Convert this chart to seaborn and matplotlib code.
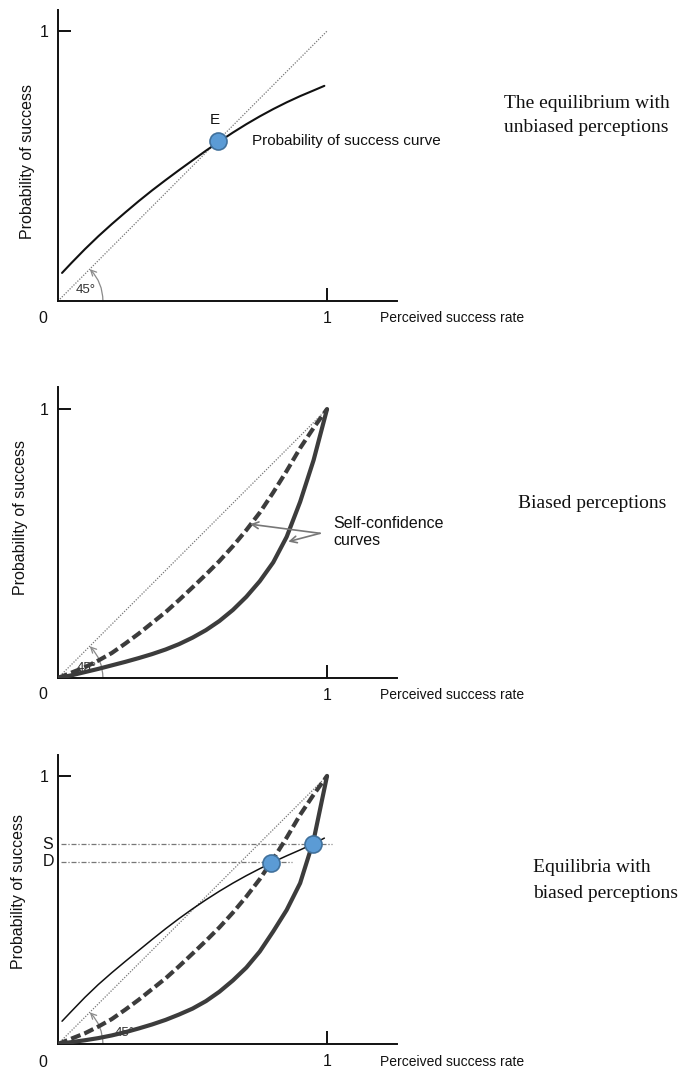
import matplotlib
matplotlib.use("Agg")
import matplotlib.pyplot as plt
import seaborn as sns
import pandas as pd

# ---------------- data ----------------
diag_x = [0.0, 1.0]
diag_y = [0.0, 1.0]

# panel 1: probability of success curve (unbiased)
p1_x = [0.015, 0.05, 0.10, 0.15, 0.20, 0.25, 0.30, 0.35, 0.40, 0.45, 0.50,
        0.55, 0.60, 0.65, 0.70, 0.75, 0.80, 0.85, 0.90, 0.95, 0.99]
p1_y = [0.104, 0.141, 0.192, 0.240, 0.285, 0.328, 0.370, 0.410, 0.448, 0.485, 0.521,
        0.557, 0.591, 0.624, 0.655, 0.684, 0.711, 0.736, 0.759, 0.780, 0.797]
E_x = [0.594]
E_y = [0.594]

# panels 2 & 3: self-confidence curves
bias_x = [0.0, 0.05, 0.10, 0.15, 0.20, 0.25, 0.30, 0.35, 0.40, 0.45, 0.50,
          0.55, 0.60, 0.65, 0.70, 0.75, 0.80, 0.85, 0.90, 0.95, 1.0]
moderate_y = [0.0, 0.020, 0.040, 0.065, 0.093, 0.128, 0.165, 0.205, 0.245, 0.290, 0.337,
              0.385, 0.435, 0.490, 0.550, 0.615, 0.690, 0.770, 0.855, 0.930, 1.0]
strong_y_p2 = [0.0, 0.010, 0.022, 0.034, 0.047, 0.060, 0.074, 0.089, 0.106, 0.126, 0.150,
               0.178, 0.212, 0.253, 0.302, 0.360, 0.430, 0.525, 0.655, 0.810, 1.0]
strong_y_p3 = [0.0, 0.007, 0.014, 0.022, 0.032, 0.044, 0.058, 0.073, 0.090, 0.110, 0.132,
               0.160, 0.195, 0.237, 0.285, 0.345, 0.420, 0.500, 0.600, 0.760, 1.0]

# panel 3: probability of success curve
p3_x = [0.015, 0.05, 0.10, 0.15, 0.20, 0.25, 0.30, 0.35, 0.40, 0.45, 0.50,
        0.55, 0.60, 0.65, 0.70, 0.75, 0.80, 0.85, 0.90, 0.95, 0.99]
p3_y = [0.085, 0.122, 0.174, 0.222, 0.266, 0.308, 0.349, 0.390, 0.430, 0.468, 0.504,
        0.538, 0.570, 0.600, 0.628, 0.654, 0.679, 0.702, 0.724, 0.747, 0.768]
eq_x = [0.792, 0.947]
eq_y = [0.675, 0.746]
level_labels = ["D", "S"]
level_y = [0.680, 0.746]
level_xend = [0.87, 1.02]

# ---------------- style ----------------
sns.set_style("white")
plt.rcParams['font.family'] = ['Liberation Sans', 'DejaVu Sans']

W, H = 679, 1068
fig = plt.figure(figsize=(W / 100, H / 100), dpi=100)

def add_axes(bottom_px, top_px):
    left, right = 58, 397
    return fig.add_axes([left / W, (H - bottom_px) / H, (right - left) / W, (bottom_px - top_px) / H])

ax1 = add_axes(301, 10)
ax2 = add_axes(678, 387)
ax3 = add_axes(1044, 755)

SPINE = "#111111"
CURVE_DARK = "#3c3c3c"
MARK_FC = "#5b9bd5"
MARK_EC = "#41719c"

def setup(ax, ytop, ylab_xy, xlab_y):
    ax.set_xlim(0, 1.26)
    ax.set_ylim(0, ytop)
    sns.despine(ax=ax)
    for s in ["left", "bottom"]:
        ax.spines[s].set_linewidth(1.4)
        ax.spines[s].set_color(SPINE)
    ax.set_xticks([1])
    ax.set_xticklabels(["1"])
    ax.set_yticks([1])
    ax.set_yticklabels(["1"])
    ax.tick_params(bottom=True, left=True, direction="in", length=9.5, width=1.4,
                   color=SPINE, pad=7, labelsize=11.5, labelcolor="#111111")
    ax.set_xlabel("")
    ax.set_ylabel("")
    ax.text(-0.056, xlab_y, "0", ha="center", va="center", fontsize=11.5,
            color="#111111", clip_on=False)
    ax.text(1.197, xlab_y, "Perceived success rate", ha="left", va="center",
            fontsize=10, color="#111111", clip_on=False)
    ax.text(ylab_xy[0], ylab_xy[1], "Probability of success", rotation=90,
            ha="center", va="center", fontsize=11.5, color="#111111", clip_on=False)
    # diagonal 45 degree line
    sns.lineplot(x=diag_x, y=diag_y, ax=ax, color="#777777", linewidth=0.9,
                 linestyle=(0, (1, 1.2)), zorder=2)

def angle_mark(ax, label_xy):
    r = 0.167
    ax.annotate("", xy=(r * 0.7071, r * 0.7071), xytext=(r, 0.0),
                arrowprops=dict(arrowstyle="->", color="#8a8a8a", lw=0.9,
                                shrinkA=0, shrinkB=0,
                                connectionstyle="arc3,rad=0.2"), zorder=1)
    ax.text(label_xy[0], label_xy[1], "45°", ha="center", va="center",
            fontsize=9.5, color="#333333", zorder=1)

# ---------------- panel 1 ----------------
setup(ax1, 1.078, (-0.115, 0.515), -0.063)
angle_mark(ax1, (0.104, 0.041))
sns.lineplot(x=p1_x, y=p1_y, ax=ax1, color="#111111", linewidth=1.5, zorder=3)
sns.scatterplot(x=E_x, y=E_y, ax=ax1, s=150, color=MARK_FC, edgecolor=MARK_EC,
                linewidth=1.2, zorder=5)
ax1.text(0.584, 0.67, "E", ha="center", va="center", fontsize=11, color="#111111")
ax1.text(0.721, 0.593, "Probability of success curve", ha="left", va="center",
         fontsize=11, color="#111111")

# ---------------- panel 2 ----------------
setup(ax2, 1.082, (-0.14, 0.595), -0.063)
angle_mark(ax2, (0.105, 0.037))
sns.lineplot(x=bias_x, y=moderate_y, ax=ax2, color=CURVE_DARK, linewidth=3.0,
             linestyle=(0, (2.4, 1.0)), zorder=3)
sns.lineplot(x=bias_x, y=strong_y_p2, ax=ax2, color=CURVE_DARK, linewidth=3.0, zorder=3)
ax2.text(1.022, 0.574, "Self-confidence", ha="left", va="center", fontsize=11.5, color="#111111")
ax2.text(1.022, 0.512, "curves", ha="left", va="center", fontsize=11.5, color="#111111")
for tgt in [(0.714, 0.572), (0.856, 0.507)]:
    ax2.annotate("", xy=tgt, xytext=(0.974, 0.538),
                 arrowprops=dict(arrowstyle="->", color="#777777", lw=1.2,
                                 shrinkA=0, shrinkB=0, mutation_scale=12), zorder=4)

# ---------------- panel 3 ----------------
setup(ax3, 1.078, (-0.145, 0.57), -0.068)
angle_mark(ax3, (0.249, 0.041))
for lab, yv, xe in zip(level_labels, level_y, level_xend):
    sns.lineplot(x=[0.01, xe], y=[yv, yv], ax=ax3, color="#777777", linewidth=0.9,
                 linestyle=(0, (4, 1.5, 1, 1.5)), zorder=2)
    ax3.text(-0.037, yv, lab, ha="center", va="center", fontsize=11.5, color="#111111",
             clip_on=False)
sns.lineplot(x=bias_x, y=moderate_y, ax=ax3, color=CURVE_DARK, linewidth=3.0,
             linestyle=(0, (2.4, 1.0)), zorder=3)
sns.lineplot(x=bias_x, y=strong_y_p3, ax=ax3, color=CURVE_DARK, linewidth=3.0, zorder=3)
sns.lineplot(x=p3_x, y=p3_y, ax=ax3, color="#111111", linewidth=1.1, zorder=3)
sns.scatterplot(x=eq_x, y=eq_y, ax=ax3, s=150, color=MARK_FC, edgecolor=MARK_EC,
                linewidth=1.2, zorder=5)

# ---------------- side captions ----------------
serif = ['Liberation Serif', 'DejaVu Serif']
fig.text(504 / W, 1 - 104 / H, "The equilibrium with", family=serif, fontsize=14,
         ha="left", va="center", color="#111111")
fig.text(504 / W, 1 - 128 / H, "unbiased perceptions", family=serif, fontsize=14,
         ha="left", va="center", color="#111111")
fig.text(518 / W, 1 - 503 / H, "Biased perceptions", family=serif, fontsize=14,
         ha="left", va="center", color="#111111")
fig.text(533 / W, 1 - 868 / H, "Equilibria with", family=serif, fontsize=14,
         ha="left", va="center", color="#111111")
fig.text(533 / W, 1 - 893 / H, "biased perceptions", family=serif, fontsize=14,
         ha="left", va="center", color="#111111")

fig.savefig("out.png", dpi=100)
